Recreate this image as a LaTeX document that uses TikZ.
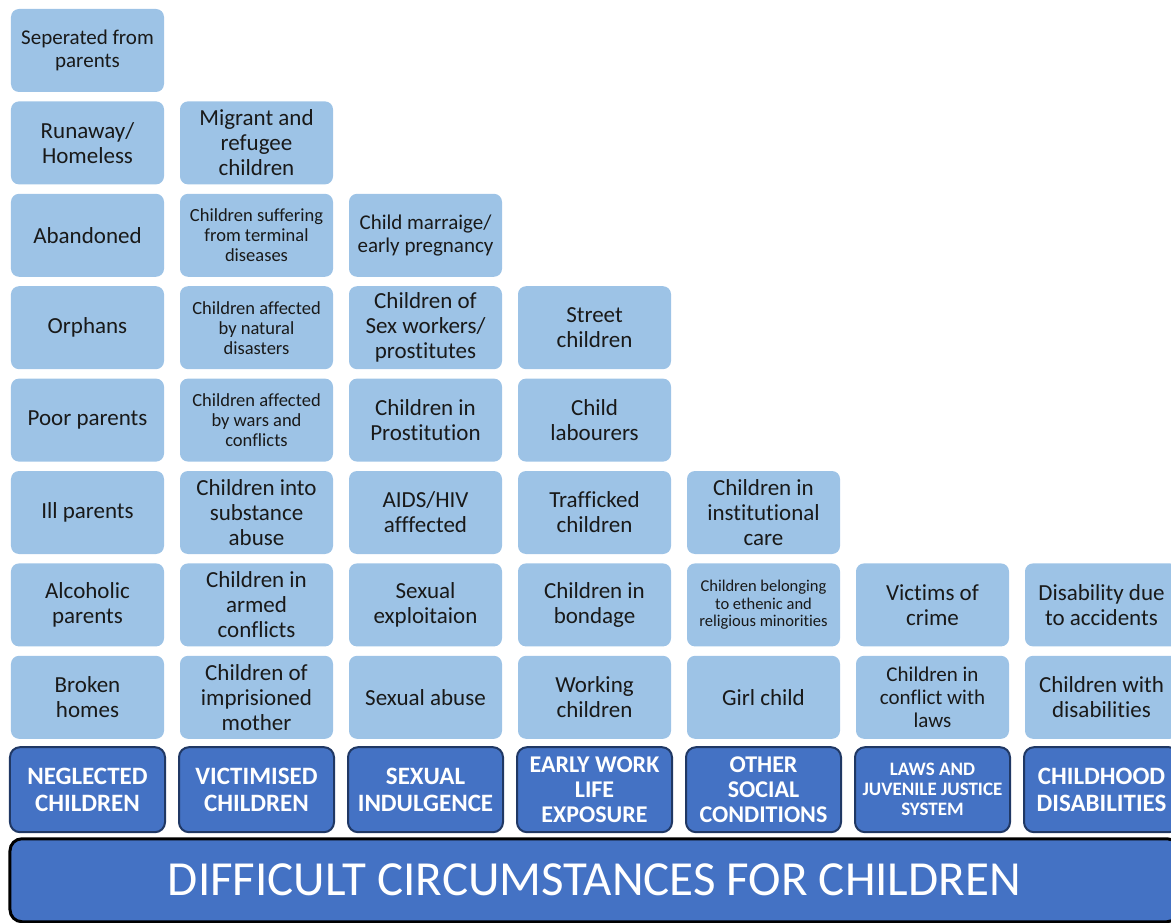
\documentclass[tikz,border=0pt]{standalone}
\usepackage{fontspec}
\setmainfont{Carlito}[Ligatures=NoCommon]
\usetikzlibrary{positioning}

\definecolor{cellblue}{HTML}{9DC3E6}
\definecolor{headblue}{HTML}{4472C4}
\definecolor{headline}{HTML}{203864}

\begin{document}
\begin{tikzpicture}[x=169pt, y=-92.4pt,
  cell/.style={fill=cellblue, rounded corners=8pt, minimum width=153pt, minimum height=83pt,
    inner sep=0pt, align=center, text=black!90, font=\fontsize{23}{25}\selectfont},
  midcell/.style={cell, font=\fontsize{21}{23}\selectfont},
  smallcell/.style={cell, font=\fontsize{18.5}{20}\selectfont},
  tinycell/.style={cell, font=\fontsize{16.5}{17.5}\selectfont},
  head/.style={fill=headblue, draw=headline, line width=2pt, rounded corners=10pt,
    minimum width=155pt, minimum height=85pt, inner sep=0pt, align=center, text=white,
    font=\fontsize{25}{27}\selectfont\bfseries},
  midhead/.style={head, font=\fontsize{24}{25}\selectfont\bfseries},
  smallhead/.style={head, font=\fontsize{19}{20}\selectfont\bfseries}]
\def\x{0}
\def\y{0}

\useasboundingbox (-87.5pt, 50.5pt) rectangle (1083.5pt, -872.5pt);
\clip (-87.5pt, 50.5pt) rectangle (1083.5pt, -872.5pt);

% neglected children
\node[midcell] (a1) at (\x + 0, \y + 0) {Seperated from\\parents};
\node[cell] (a2) at (\x + 0, \y + 1) {Runaway/\\Homeless};
\node[cell] (a3) at (\x + 0, \y + 2) {Abandoned};
\node[cell] (a4) at (\x + 0, \y + 3) {Orphans};
\node[cell] (a5) at (\x + 0, \y + 4) {Poor parents};
\node[cell] (a6) at (\x + 0, \y + 5) {Ill parents};
\node[cell] (a7) at (\x + 0, \y + 6) {Alcoholic\\parents};
\node[cell] (a8) at (\x + 0, \y + 7) {Broken\\homes};

% victimised children
\node[cell] (b2) at (\x + 1, \y + 1) {Migrant and\\refugee\\children};
\node[smallcell] (b3) at (\x + 1, \y + 2) {Children suffering\\from terminal\\diseases};
\node[smallcell] (b4) at (\x + 1, \y + 3) {Children affected\\by natural\\disasters};
\node[smallcell] (b5) at (\x + 1, \y + 4) {Children affected\\by wars and\\conflicts};
\node[cell] (b6) at (\x + 1, \y + 5) {Children into\\substance\\abuse};
\node[cell] (b7) at (\x + 1, \y + 6) {Children in\\armed\\conflicts};
\node[cell] (b8) at (\x + 1, \y + 7) {Children of\\imprisioned\\mother};

% sexual indulgence
\node[midcell] (c3) at (\x + 2, \y + 2) {Child marraige/\\early pregnancy};
\node[cell] (c4) at (\x + 2, \y + 3) {Children of\\Sex workers/\\prostitutes};
\node[cell] (c5) at (\x + 2, \y + 4) {Children in\\Prostitution};
\node[cell] (c6) at (\x + 2, \y + 5) {AIDS/HIV\\afffected};
\node[cell] (c7) at (\x + 2, \y + 6) {Sexual\\exploitaion};
\node[cell] (c8) at (\x + 2, \y + 7) {Sexual abuse};

% early work life
\node[cell] (d4) at (\x + 3, \y + 3) {Street\\children};
\node[cell] (d5) at (\x + 3, \y + 4) {Child\\labourers};
\node[cell] (d6) at (\x + 3, \y + 5) {Trafficked\\children};
\node[cell] (d7) at (\x + 3, \y + 6) {Children in\\bondage};
\node[cell] (d8) at (\x + 3, \y + 7) {Working\\children};

% other social conditions
\node[cell] (e6) at (\x + 4, \y + 5) {Children in\\institutional\\care};
\node[tinycell] (e7) at (\x + 4, \y + 6) {Children belonging\\to ethenic and\\religious minorities};
\node[cell] (e8) at (\x + 4, \y + 7) {Girl child};

% laws
\node[cell] (f7) at (\x + 5, \y + 6) {Victims of\\crime};
\node[midcell] (f8) at (\x + 5, \y + 7) {Children in\\conflict with\\laws};

% disabilities
\node[cell] (g7) at (\x + 6, \y + 6) {Disability due\\to accidents};
\node[cell] (g8) at (\x + 6, \y + 7) {Children with\\disabilities};

% headers
\node[head] (ha) at (\x + 0, \y + 8) {NEGLECTED\\CHILDREN};
\node[head] (hb) at (\x + 1, \y + 8) {VICTIMISED\\CHILDREN};
\node[head] (hc) at (\x + 2, \y + 8) {SEXUAL\\INDULGENCE};
\node[midhead] (hd) at (\x + 3, \y + 8) {EARLY WORK\\LIFE\\EXPOSURE};
\node[midhead] (he) at (\x + 4, \y + 8) {OTHER\\SOCIAL\\CONDITIONS};
\node[smallhead] (hf) at (\x + 5, \y + 8) {LAWS AND\\JUVENILE JUSTICE\\SYSTEM};
\node[head] (hg) at (\x + 6, \y + 8) {CHILDHOOD\\DISABILITIES};

\node[fill=headblue, draw=black, line width=3pt, rounded corners=12pt, minimum width=1169pt,
  minimum height=83pt, text=white, font=\fontsize{49}{60}\selectfont] (root)
  at (\x + 3, \y + 8.98) {DIFFICULT CIRCUMSTANCES FOR CHILDREN};

\end{tikzpicture}
\end{document}
